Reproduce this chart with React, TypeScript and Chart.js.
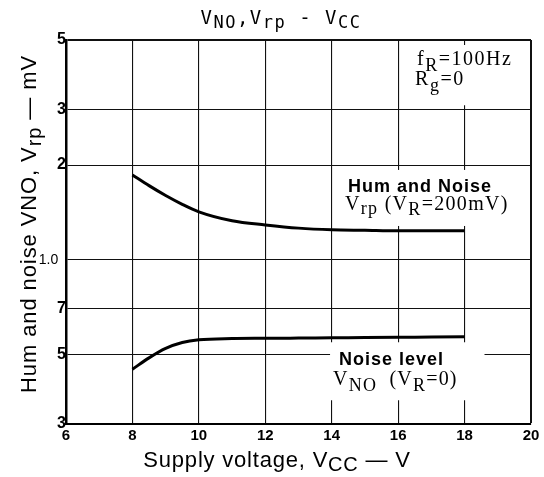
import React, { useEffect, useRef } from 'react';
import { Chart, registerables } from 'chart.js';

Chart.register(...registerables);

// ---- data ----
const supplyVoltage = [8, 8.5, 9, 9.5, 10, 11, 12, 13, 14, 15, 16, 17, 18];
const humAndNoise = [1.86, 1.72, 1.6, 1.5, 1.42, 1.33, 1.29, 1.26, 1.245, 1.24, 1.235, 1.235, 1.235];
const noiseLevel = [0.448, 0.487, 0.522, 0.545, 0.556, 0.561, 0.562, 0.563, 0.564, 0.565, 0.566, 0.567, 0.568];
const xTickValues = [6, 8, 10, 12, 14, 16, 18, 20];
const yTickValues = [0.3, 0.5, 0.7, 1, 2, 3, 5];
const yTickLabels = ['3', '5', '7', '1.0', '2', '3', '5'];

const SANS = '"Liberation Sans", Arial, sans-serif';
const SERIF = '"Liberation Serif", "Times New Roman", serif';
const MONO = '"DejaVu Sans Mono", monospace';

type Seg = { t: string; f: string; dy?: number };

function segWidth(ctx: CanvasRenderingContext2D, segs: Seg[]) {
  let w = 0;
  for (const s of segs) {
    ctx.font = s.f;
    w += ctx.measureText(s.t).width;
  }
  return w;
}

function drawRich(ctx: CanvasRenderingContext2D, segs: Seg[], x: number, y: number, align: 'left' | 'center', ls: number) {
  (ctx as any).letterSpacing = ls + 'px';
  const w = segWidth(ctx, segs);
  let cx = align === 'center' ? x - w / 2 : x;
  ctx.textAlign = 'left';
  ctx.textBaseline = 'alphabetic';
  for (const s of segs) {
    ctx.font = s.f;
    ctx.fillText(s.t, cx, y + (s.dy || 0));
    cx += ctx.measureText(s.t).width;
  }
  (ctx as any).letterSpacing = '0px';
}

const sansB = `bold 18px ${SANS}`;
const serif = `20px ${SERIF}`;
const serifSub = `18px ${SERIF}`;

const annotations: { x: number; y: number; segs: Seg[]; ls: number }[] = [
  { x: 16.57, y: 4.16, ls: 1.5, segs: [{ t: 'f', f: serif }, { t: 'R', f: serifSub, dy: 6 }, { t: '=100Hz', f: serif }] },
  { x: 16.51, y: 3.59, ls: 1.5, segs: [{ t: 'R', f: serif }, { t: 'g', f: serifSub, dy: 6 }, { t: '=0', f: serif }] },
  { x: 14.49, y: 1.64, ls: 1, segs: [{ t: 'Hum and Noise', f: sansB }] },
  { x: 14.4, y: 1.437, ls: 1.3, segs: [{ t: 'V', f: serif }, { t: 'rp', f: serifSub, dy: 4 }, { t: ' (V', f: serif }, { t: 'R', f: serifSub, dy: 5 }, { t: '=200mV)', f: serif }] },
  { x: 14.22, y: 0.461, ls: 1, segs: [{ t: 'Noise level', f: sansB }] },
  { x: 14.04, y: 0.398, ls: 1.2, segs: [{ t: 'V', f: serif }, { t: 'NO', f: serifSub, dy: 6 }, { t: '  (V', f: serif }, { t: 'R', f: serifSub, dy: 6 }, { t: '=0)', f: serif }] },
];

const whiteBoxes = [
  { x0: 16.25, x1: 19.9, y0: 4.82, y1: 3.1 },
  { x0: 14.34, x1: 19.52, y0: 1.93, y1: 1.28 },
  { x0: 13.95, x1: 18.6, y0: 0.546, y1: 0.357 },
];

const textPlugin = {
  id: 'textPlugin',
  beforeDatasetsDraw(chart: any) {
    const ctx: CanvasRenderingContext2D = chart.ctx;
    const xs = chart.scales.x;
    const ys = chart.scales.y;
    ctx.save();
    ctx.fillStyle = '#fff';
    for (const b of whiteBoxes) {
      const l = xs.getPixelForValue(b.x0);
      const r = xs.getPixelForValue(b.x1);
      const t = ys.getPixelForValue(b.y0);
      const bt = ys.getPixelForValue(b.y1);
      ctx.fillRect(l, t, r - l, bt - t);
    }
    ctx.fillStyle = '#000';
    for (const a of annotations) {
      drawRich(ctx, a.segs, xs.getPixelForValue(a.x), ys.getPixelForValue(a.y), 'left', a.ls);
    }
    ctx.restore();
  },
  afterDraw(chart: any) {
    const ctx: CanvasRenderingContext2D = chart.ctx;
    ctx.save();
    ctx.fillStyle = '#000';
    // title
    const tm = `19px ${MONO}`;
    const ts = `17px ${MONO}`;
    drawRich(ctx, [
      { t: 'V', f: tm }, { t: 'NO', f: ts, dy: 4 }, { t: ',', f: tm },
      { t: 'V', f: tm }, { t: 'rp', f: ts, dy: 4 }, { t: ' - ', f: tm },
      { t: 'V', f: tm }, { t: 'CC', f: ts, dy: 4 },
    ], 281, 24, 'center', 1.5);
    // x title
    const xf = `22px ${SANS}`;
    const xsub = `20px ${SANS}`;
    drawRich(ctx, [
      { t: 'Supply voltage, V', f: xf }, { t: 'CC', f: xsub, dy: 4 }, { t: ' \u2014 V', f: xf },
    ], 277, 467, 'center', 0.8);
    // y title
    ctx.translate(36, 224);
    ctx.rotate(-Math.PI / 2);
    drawRich(ctx, [
      { t: 'Hum and noise VNO, V', f: xf }, { t: 'rp', f: xsub, dy: 5 }, { t: ' \u2014 mV', f: xf },
    ], 0, 0, 'center', 0.9);
    ctx.restore();
  },
};

export default function App() {
  const ref = useRef<HTMLCanvasElement>(null);
  useEffect(() => {
    const gridWidth = (edgeVals: number[]) => (c: any) => {
      const v = c.tick ? c.tick.value : NaN;
      return edgeVals.includes(v) ? 2 : 1.1;
    };
    const chart = new Chart(ref.current as HTMLCanvasElement, {
      type: 'line',
      data: {
        datasets: [
          {
            data: supplyVoltage.map((x, i) => ({ x, y: humAndNoise[i] })),
            borderColor: '#000',
            borderWidth: 3,
            pointRadius: 0,
            cubicInterpolationMode: 'monotone',
            fill: false,
          },
          {
            data: supplyVoltage.map((x, i) => ({ x, y: noiseLevel[i] })),
            borderColor: '#000',
            borderWidth: 3,
            pointRadius: 0,
            cubicInterpolationMode: 'monotone',
            fill: false,
          },
        ],
      },
      options: {
        animation: false,
        responsive: false,
        devicePixelRatio: 1,
        layout: { padding: { top: 40, right: 13, left: 0, bottom: 0 } },
        plugins: { legend: { display: false }, tooltip: { enabled: false }, title: { display: false } },
        scales: {
          x: {
            type: 'linear',
            min: 6,
            max: 20,
            afterBuildTicks: (s: any) => { s.ticks = xTickValues.map((value) => ({ value })); },
            afterFit: (s: any) => { s.height = 53; },
            ticks: { color: '#000', padding: 3, autoSkip: false, maxRotation: 0, font: { family: SANS, size: 15, weight: 'bold' } },
            grid: { color: '#111', lineWidth: gridWidth([20]), drawTicks: false },
            border: { display: true, color: '#000', width: 2 },
          },
          y: {
            type: 'logarithmic',
            min: 0.3,
            max: 5,
            afterBuildTicks: (s: any) => { s.ticks = yTickValues.map((value) => ({ value })); },
            afterFit: (s: any) => { s.width = 66; },
            ticks: {
              color: '#000',
              padding: 0,
              autoSkip: false,
              callback: (v: any) => {
                const i = yTickValues.indexOf(Number(v));
                const lab = i >= 0 ? yTickLabels[i] : '';
                return lab === '1.0' ? lab + '  ' : lab;
              },
              font: (c: any) => (c.tick && c.tick.value === 1
                ? { family: SANS, size: 14, weight: 'normal' }
                : { family: SANS, size: 16, weight: 'bold' }),
            },
            grid: { color: '#111', lineWidth: gridWidth([5]), drawTicks: false },
            border: { display: true, color: '#000', width: 2.5 },
          },
        },
      } as any,
      plugins: [textPlugin],
    });
    return () => chart.destroy();
  }, []);
  return (
    <div style={{ position: 'fixed', left: 0, top: 0, width: 544, height: 477, background: '#fff' }}>
      <canvas ref={ref} width={544} height={477} style={{ display: 'block', width: 544, height: 477 }} />
    </div>
  );
}
